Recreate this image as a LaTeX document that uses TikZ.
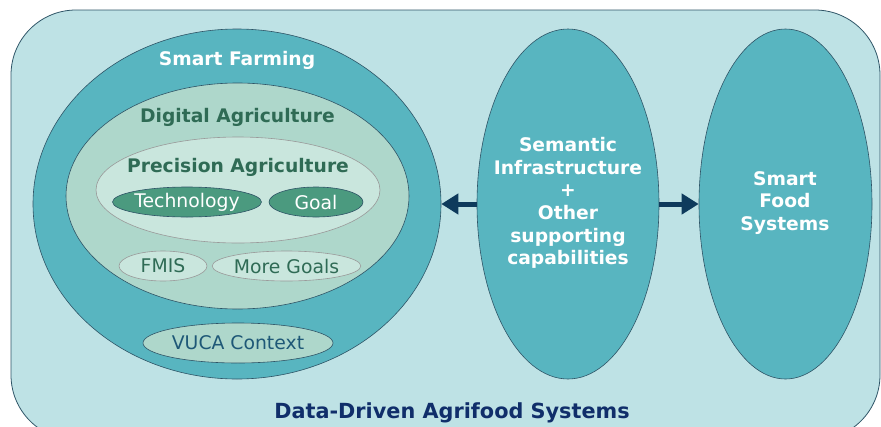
\documentclass[tikz,border=0pt]{standalone}
\usepackage{fontspec}
\setmainfont{DejaVu Sans}
\usepackage{tikz}
\usetikzlibrary{shapes.geometric,arrows.meta}

\definecolor{bgblue}{HTML}{BEE2E5}
\definecolor{teal}{HTML}{58B5C0}
\definecolor{midgreen}{HTML}{AED7CB}
\definecolor{palegreen}{HTML}{C9E6DD}
\definecolor{darkgreen}{HTML}{4B9A7F}
\definecolor{textgreen}{HTML}{2F6B55}
\definecolor{edgeblue}{HTML}{2E5466}
\definecolor{navy}{HTML}{0E3A5C}
\definecolor{titlenavy}{HTML}{102E6A}
\definecolor{vucablue}{HTML}{1E5877}

\tikzset{
  blob/.style={ellipse, draw=edgeblue, line width=0.6pt, inner sep=0pt},
  pill/.style={ellipse, draw=edgeblue, line width=0.6pt, inner sep=0pt, minimum height=30pt, font=\fontsize{18.8}{18.8}\selectfont},
  greypill/.style={pill, draw=gray!80, fill=palegreen, text=textgreen},
  bold title/.style={font=\fontsize{18.7}{18.7}\selectfont\bfseries},
  stack title/.style={align=center, text=white, font=\fontsize{18.7}{22.6}\selectfont\bfseries},
  link/.style={line width=5pt, navy, -{Triangle[length=17pt,width=20pt]}}
}

\begin{document}
\begin{tikzpicture}[x=1pt,y=-1pt]
  \useasboundingbox (0,0) rectangle (881,426);
  \begin{scope}
    % background frame
    \path[fill=bgblue, draw=edgeblue, line width=0.8pt, rounded corners=65pt] (11,10) rectangle (880,440);

    % smart farming and its layers
    \node[blob, fill=teal, minimum width=408pt, minimum height=350pt] (farming) at (237,204) {};
    \node[blob, fill=midgreen, minimum width=343pt, minimum height=226pt] (digital) at (237.5,196) {};
    \node[blob, draw=gray!80, fill=palegreen, minimum width=284pt, minimum height=106pt] (precision) at (238,190) {};

    \node[bold title, text=white] (farmingtxt) at (237,60) {Smart Farming};
    \node[bold title, text=textgreen] (digitaltxt) at (237.5,117) {Digital Agriculture};
    \node[bold title, text=textgreen] (precisiontxt) at (238,167) {Precision Agriculture};

    \node[pill, fill=darkgreen, text=white, minimum width=148pt] (tech) at (187,202) {Technology};
    \node[pill, fill=darkgreen, text=white, minimum width=94pt] (goal) at (316,202) {Goal};

    \node[greypill, minimum width=88pt] (fmis) at (163,266) {FMIS};
    \node[greypill, minimum width=137pt] (moregoals) at (286.5,266) {More Goals};

    \node[pill, fill=midgreen, text=vucablue, minimum width=190pt, minimum height=40pt] (vuca) at (238,343) {VUCA Context};

    % middle and right
    \node[blob, fill=teal, minimum width=182pt, minimum height=350pt] (semantic) at (568,204) {};
    \node[stack title] (semantictxt) at (568,203)
      {Semantic\\Infrastructure\\+\\Other\\supporting\\capabilities};

    \node[blob, fill=teal, minimum width=173pt, minimum height=350pt] (food) at (785.5,204) {};
    \node[stack title] (foodtxt) at (785,203) {Smart\\Food\\Systems};

    \draw[link] (semantic.west) -- (farming.east);
    \draw[link] (semantic.east) -- (food.west);

    \node[bold title, text=titlenavy, font=\fontsize{20.8}{20.8}\selectfont\bfseries] (frametitle) at (452,413) {Data-Driven Agrifood Systems};
  \end{scope}
\end{tikzpicture}
\end{document}
